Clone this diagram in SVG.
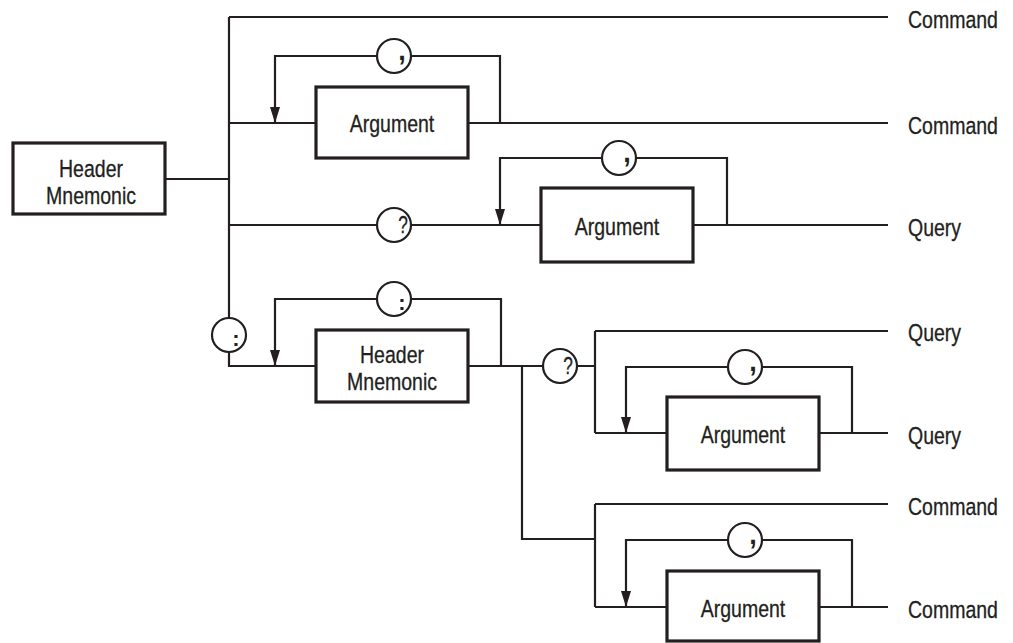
<svg xmlns="http://www.w3.org/2000/svg" width="1013" height="643" viewBox="0 0 1013 643">
<style>
.ln{fill:none;stroke:#231f20;stroke-width:2.2}
.bx{fill:#fff;stroke:#231f20;stroke-width:3.2}
.ci{fill:#fff;stroke:#231f20;stroke-width:2.2}
.t{font-family:"Liberation Sans",Arial,sans-serif;font-size:23.5px;fill:#231f20;stroke:#231f20;stroke-width:0.3}
.m{text-anchor:middle}
.g{font-family:"Liberation Sans",Arial,sans-serif;fill:#231f20;text-anchor:middle}
.cm{font-size:27px;font-weight:bold}
.q{font-size:23px;stroke:#231f20;stroke-width:0.3}
.co{font-size:22px;font-weight:bold}
</style>
<defs>
<marker id="ah" markerUnits="userSpaceOnUse" markerWidth="17" markerHeight="11" refX="16" refY="5" orient="auto">
<path d="M0,0 L16,5 L0,10 Z" fill="#231f20"/>
</marker>
</defs>
<rect width="1013" height="643" fill="#fff"/>
<g id="connectors">
<path class="ln" d="M166,179 H229"/>
<path class="ln" d="M229,17 V366 H316"/>
<path class="ln" d="M229,17 H888"/>
<path class="ln" d="M229,123 H316 M468,123 H888"/>
<path class="ln" d="M500,123 V56 H275 V123" marker-end="url(#ah)"/>
<path class="ln" d="M229,225 H541 M693,225 H888"/>
<path class="ln" d="M727,225 V158 H500 V225" marker-end="url(#ah)"/>
<path class="ln" d="M501,366 V299 H275 V366" marker-end="url(#ah)"/>
<path class="ln" d="M468,366 H595"/>
<path class="ln" d="M595,331 V433 M595,331 H888 M595,433 H667 M819,433 H888"/>
<path class="ln" d="M852,433 V367 H626 V433" marker-end="url(#ah)"/>
<path class="ln" d="M522,366 V539 H595"/>
<path class="ln" d="M595,504 V607 M595,504 H888 M595,607 H667 M819,607 H888"/>
<path class="ln" d="M852,607 V540 H626 V607" marker-end="url(#ah)"/>
</g>
<g id="header1">
<rect class="bx" x="13" y="143" width="152" height="71"/>
<text class="t m" transform="translate(91,177) scale(0.83,1)">Header</text>
<text class="t m" transform="translate(91,204) scale(0.83,1)">Mnemonic</text>
</g>
<g id="arg1">
<rect class="bx" x="316" y="87" width="152" height="71"/>
<text class="t m" transform="translate(392,132) scale(0.83,1)">Argument</text>
</g>
<g id="arg2">
<rect class="bx" x="541" y="188" width="152" height="74"/>
<text class="t m" transform="translate(617,235) scale(0.83,1)">Argument</text>
</g>
<g id="header2">
<rect class="bx" x="316" y="330" width="152" height="72"/>
<text class="t m" transform="translate(392,363) scale(0.83,1)">Header</text>
<text class="t m" transform="translate(392,390) scale(0.83,1)">Mnemonic</text>
</g>
<g id="arg3">
<rect class="bx" x="667" y="397" width="152" height="73"/>
<text class="t m" transform="translate(743,443) scale(0.83,1)">Argument</text>
</g>
<g id="arg4">
<rect class="bx" x="667" y="571" width="152" height="70"/>
<text class="t m" transform="translate(743,617) scale(0.83,1)">Argument</text>
</g>
<g id="comma1"><circle class="ci" cx="394" cy="56" r="17"/><text class="g cm" x="402" y="60">,</text></g>
<g id="query1"><circle class="ci" cx="394" cy="225" r="17"/><text class="g q" transform="translate(403,233) scale(0.75,1)">?</text></g>
<g id="comma2"><circle class="ci" cx="619" cy="158" r="17"/><text class="g cm" x="627" y="162">,</text></g>
<g id="colon1"><circle class="ci" cx="229" cy="335" r="17"/><text class="g co" x="236" y="345.5">:</text></g>
<g id="colon2"><circle class="ci" cx="394" cy="299" r="17"/><text class="g co" x="402" y="309.5">:</text></g>
<g id="query2"><circle class="ci" cx="560" cy="366" r="17"/><text class="g q" transform="translate(568,374) scale(0.75,1)">?</text></g>
<g id="comma3"><circle class="ci" cx="745" cy="367" r="17"/><text class="g cm" x="753" y="371">,</text></g>
<g id="comma4"><circle class="ci" cx="745" cy="540" r="17"/><text class="g cm" x="753" y="544">,</text></g>
<g id="labels">
<text class="t" transform="translate(908,28) scale(0.83,1)">Command</text>
<text class="t" transform="translate(908,133.5) scale(0.83,1)">Command</text>
<text class="t" transform="translate(908,236) scale(0.83,1)">Query</text>
<text class="t" transform="translate(908,341) scale(0.83,1)">Query</text>
<text class="t" transform="translate(908,444) scale(0.83,1)">Query</text>
<text class="t" transform="translate(908,515) scale(0.83,1)">Command</text>
<text class="t" transform="translate(908,617.5) scale(0.83,1)">Command</text>
</g>
</svg>
